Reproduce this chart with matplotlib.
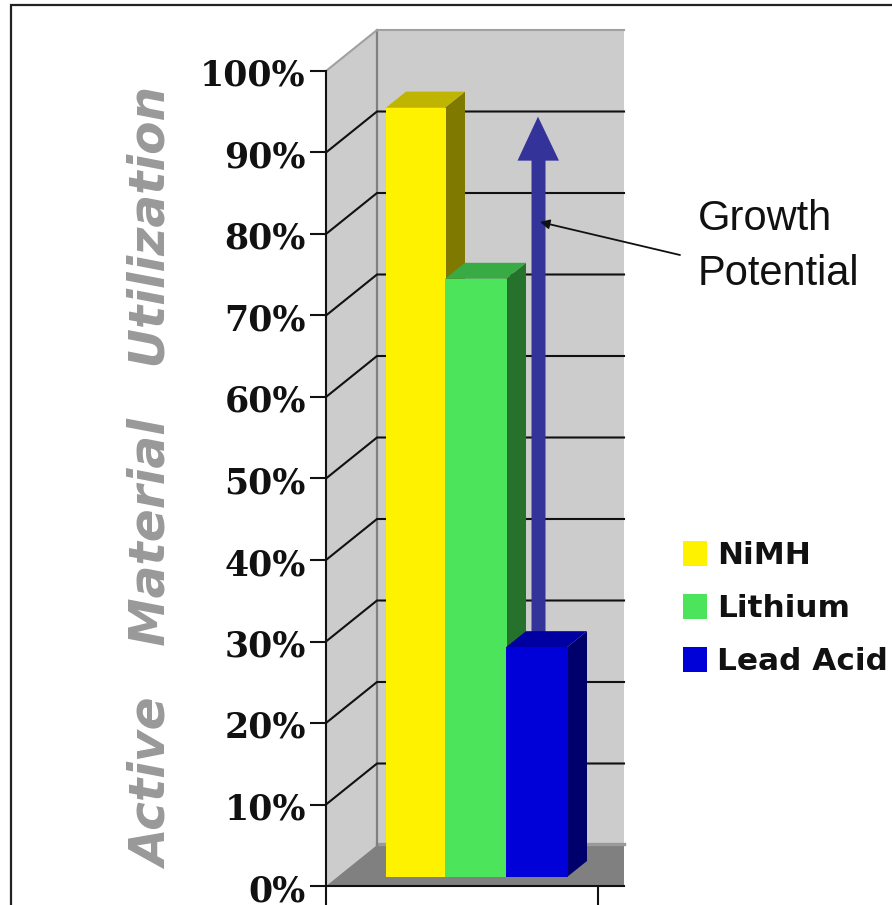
import matplotlib
matplotlib.use("Agg")
import matplotlib.pyplot as plt
from matplotlib.lines import Line2D
from matplotlib.patches import Polygon, Rectangle
from matplotlib.transforms import ScaledTranslation

# Chart values
chemistries = ["NiMH", "Lithium", "Lead Acid"]
utilization = [94.4, 73.4, 28.2]
tick_values = [0, 10, 20, 30, 40, 50, 60, 70, 80, 90, 100]
tick_labels = ["0%", "10%", "20%", "30%", "40%", "50%", "60%", "70%", "80%", "90%", "100%"]
axis_title = "Active   Material   Utilization"

front_colors = ["#FFF200", "#4CE45A", "#0000D8"]
top_colors = ["#BFB500", "#39AB44", "#0000A2"]
side_colors = ["#807900", "#26722D", "#00006C"]

W, H = 892, 905
fig = plt.figure(figsize=(W / 100, H / 100), dpi=100, facecolor="white")


def fx(px):
    return px / W


def fy(px):
    return 1 - px / H


# The x scale runs in pixels across the plot, the y scale in percent
ax = fig.add_axes([fx(326), fy(886), fx(624) - fx(326), fy(71) - fy(886)])
ax.set_xlim(326, 624)
ax.set_ylim(0, 100)
ax.set_facecolor("none")
PX_PER_PCT = (886 - 71) / 100


def px_y(pixels):
    return pixels / PX_PER_PCT


# Depth of the 3D box and of the bars
WALL_DX, WALL_DY = 51, px_y(41)
BAR_INSET_DY = px_y(9)
BAR_DX, BAR_DY = 20, px_y(16)

# Side wall, back wall and floor
ax.add_patch(Polygon([(326, 0), (326 + WALL_DX, WALL_DY), (326 + WALL_DX, 100 + WALL_DY), (326, 100)],
                     fc="#CCCCCC", ec="none", clip_on=False, zorder=1))
ax.add_patch(Rectangle((326 + WALL_DX, WALL_DY), 624 - 326 - WALL_DX, 100,
                       fc="#CCCCCC", ec="none", clip_on=False, zorder=1))
ax.add_patch(Polygon([(326, 0), (326 + WALL_DX, WALL_DY), (624, WALL_DY), (624, 0)],
                     fc="#808080", ec="none", clip_on=False, zorder=1.2))
ax.plot([326 + WALL_DX, 624], [WALL_DY + px_y(1)] * 2, color="#9A9A9A", lw=2.4, clip_on=False, zorder=1.3)

# Wall outlines
ax.plot([326 + WALL_DX] * 2, [WALL_DY, 100 + WALL_DY], color="#808080", lw=1.6, clip_on=False, zorder=1.5)
ax.plot([326, 326 + WALL_DX, 624], [100, 100 + WALL_DY, 100 + WALL_DY], color="#A0A0A0", lw=1.5,
        clip_on=False, zorder=1.5)

# Gridlines on both walls
for v in tick_values[1:-1]:
    ax.plot([326, 326 + WALL_DX, 624], [v, v + WALL_DY, v + WALL_DY], color="#111111", lw=1.5,
            clip_on=False, zorder=2, solid_joinstyle="miter")

# Bars, painted from left to right so each one overlaps the previous one
lefts = [386, 445, 506]
widths = [60, 62, 62]
for i, name in enumerate(chemistries):
    if i == 2:
        # Growth arrow rises behind the lead acid bar, up to the NiMH level
        base, tip = utilization[2] + BAR_INSET_DY, utilization[0]
        head = tip - px_y(44)
        ax.add_patch(Polygon([(531.5, base), (545.5, base), (545.5, head), (559, head),
                              (538, tip), (517.5, head), (531.5, head)],
                             fc="#333399", ec="none", zorder=3))
    x0, w = lefts[i], widths[i]
    x1 = x0 + w
    y0 = BAR_INSET_DY
    y1 = y0 + utilization[i]
    ax.add_patch(Polygon([(x1 - 1, y0), (x1 - 1 + BAR_DX, y0 + BAR_DY), (x1 - 1 + BAR_DX, y1 + BAR_DY), (x1 - 1, y1)],
                         fc=side_colors[i], ec="none", zorder=4 + i))
    ax.add_patch(Polygon([(x0, y1), (x0 + BAR_DX, y1 + BAR_DY), (x1 - 1 + BAR_DX, y1 + BAR_DY), (x1 - 1, y1)],
                         fc=top_colors[i], ec="none", zorder=4 + i))
    ax.bar(x0 + w / 2, utilization[i], width=w, bottom=y0, color=front_colors[i], zorder=4 + i, linewidth=0)

# Axes and ticks
for side in ("top", "right"):
    ax.spines[side].set_visible(False)
for side in ("left", "bottom"):
    ax.spines[side].set_linewidth(1.5)
    ax.spines[side].set_color("#111111")
    ax.spines[side].set_zorder(10)
ax.set_yticks(tick_values)
ax.set_yticklabels(tick_labels, family="DejaVu Serif", fontweight="bold", fontsize=25, color="#111111")
ax.tick_params(axis="y", length=11.5, width=1.5, color="#111111", pad=3)
label_nudge = ScaledTranslation(0, -1.5 / 100, fig.dpi_scale_trans)
for label in ax.get_yticklabels():
    label.set_transform(label.get_transform() + label_nudge)
ax.set_xticks([326, 598])
ax.set_xticklabels([])
ax.tick_params(axis="x", length=14, width=1.5, color="#111111")

# Rotated axis title
fig.text(fx(154), fy(478.5), axis_title, rotation=90, ha="center", va="center",
         family="DejaVu Sans", fontweight="bold", fontstyle="oblique", fontsize=35, color="#999999")

# Callout pointing at the growth arrow
fig.text(fx(698), fy(230), "Growth", family="Liberation Sans", fontsize=30, color="#111111",
         ha="left", va="baseline")
fig.text(fx(698), fy(285), "Potential", family="Liberation Sans", fontsize=30, color="#111111",
         ha="left", va="baseline")
ax.annotate("", xy=(540, (886 - 222) / PX_PER_PCT), xytext=(680, (886 - 255) / PX_PER_PCT),
            arrowprops=dict(arrowstyle="-|>,head_length=0.55,head_width=0.28", color="#111111", lw=1.3,
                            shrinkA=0, shrinkB=0),
            zorder=12, annotation_clip=False)

# Legend
swatch_tops = [541, 594, 647]
for name, color, top in zip(chemistries, front_colors, swatch_tops):
    fig.add_artist(Rectangle((fx(683), fy(top + 24.5)), fx(24), 24.5 / H, transform=fig.transFigure,
                             fc=color, ec="none"))
    fig.text(fx(717), fy(top + 23), name, family="DejaVu Sans", fontweight="bold", fontsize=22.4,
             color="#111111", ha="left", va="baseline")

# Outer frame, open on the right and at the bottom
fig.add_artist(Line2D([fx(11), fx(11), 1], [0, fy(5), fy(5)], transform=fig.transFigure,
                      color="#222222", lw=1.6, solid_joinstyle="miter"))

fig.savefig("out.png", dpi=100, facecolor="white")
